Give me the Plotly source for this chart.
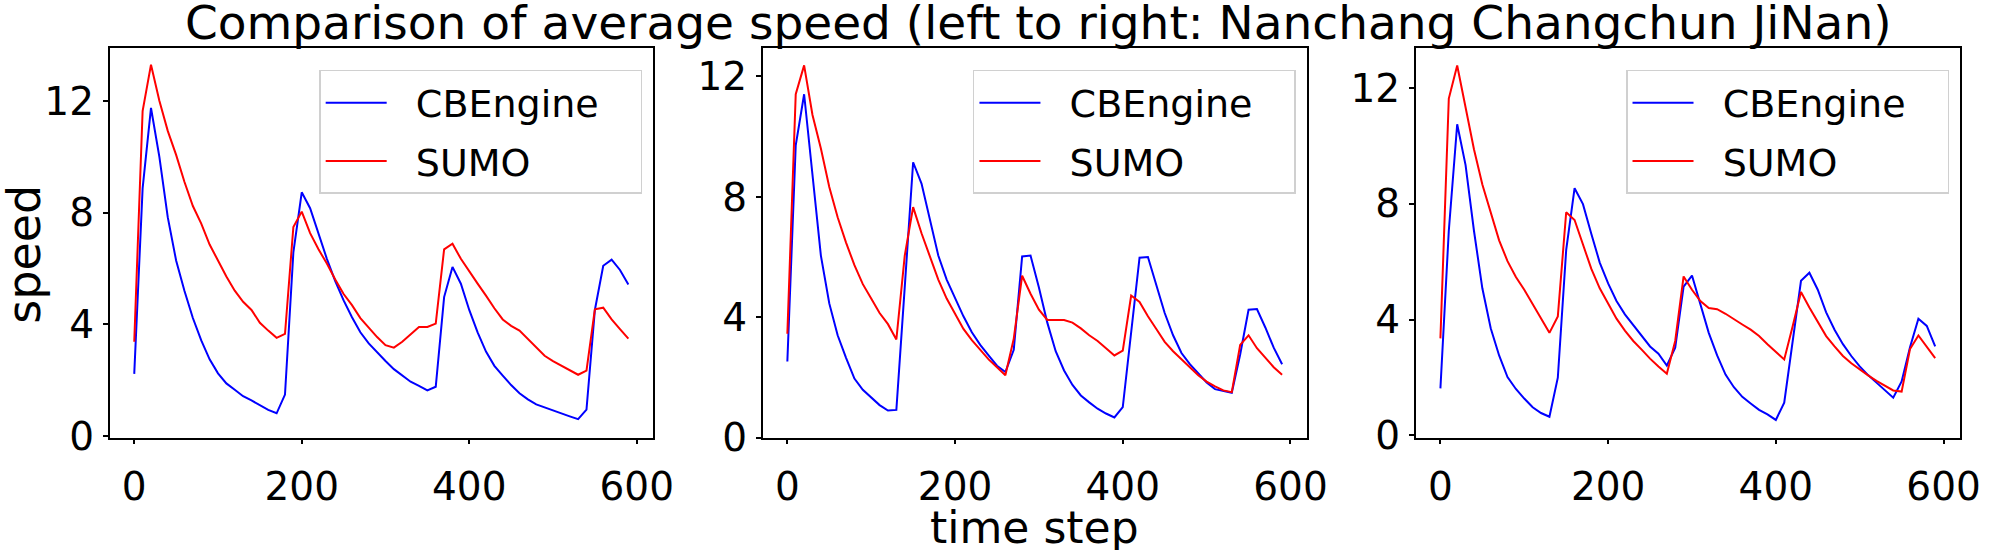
import plotly.graph_objects as go

# time steps (every 10 steps, 0..590)
t = list(range(0, 600, 10))

# Nanchang
nanchang_cbengine = [2.23, 8.87, 11.75, 10.0, 7.84, 6.29, 5.2, 4.23, 3.43, 2.75,
                     2.25, 1.89, 1.66, 1.43, 1.28, 1.11, 0.94, 0.82, 1.49, 6.58,
                     8.73, 8.16, 7.27, 6.35, 5.55, 4.86, 4.26, 3.72, 3.32, 3.0,
                     2.69, 2.40, 2.17, 1.95, 1.80, 1.64, 1.77, 4.98, 6.06, 5.46,
                     4.52, 3.72, 3.03, 2.52, 2.17, 1.83, 1.54, 1.32, 1.14, 1.03,
                     0.92, 0.80, 0.71, 0.61, 0.95, 4.52, 6.10, 6.32, 5.95, 5.43]
nanchang_sumo = [3.38, 11.64, 13.30, 12.01, 10.93, 10.07, 9.10, 8.24, 7.61, 6.86,
                 6.29, 5.72, 5.21, 4.81, 4.52, 4.06, 3.78, 3.52, 3.66, 7.49,
                 8.04, 7.27, 6.69, 6.18, 5.61, 5.09, 4.69, 4.23, 3.89, 3.55,
                 3.26, 3.17, 3.38, 3.66, 3.91, 3.91, 4.03, 6.69, 6.89, 6.35,
                 5.89, 5.46, 5.03, 4.58, 4.18, 3.95, 3.78, 3.49, 3.17, 2.88,
                 2.69, 2.52, 2.35, 2.20, 2.35, 4.54, 4.60, 4.18, 3.83, 3.49]

# Changchun
changchun_cbengine = [2.53, 9.71, 11.41, 8.81, 6.05, 4.46, 3.40, 2.65, 1.96, 1.59,
                      1.33, 1.08, 0.90, 0.92, 5.0, 9.15, 8.44, 7.22, 6.05, 5.25,
                      4.62, 4.03, 3.50, 3.08, 2.73, 2.39, 2.18, 2.92, 6.02, 6.05,
                      4.99, 3.82, 2.87, 2.23, 1.75, 1.40, 1.17, 0.96, 0.80, 0.67,
                      1.01, 3.4, 5.98, 6.00, 5.10, 4.14, 3.40, 2.81, 2.44, 2.12,
                      1.83, 1.61, 1.54, 1.49, 2.76, 4.25, 4.27, 3.66, 2.99, 2.44]
changchun_sumo = [3.45, 11.41, 12.37, 10.72, 9.61, 8.33, 7.32, 6.48, 5.73, 5.10,
                  4.62, 4.14, 3.77, 3.26, 6.05, 7.66, 6.79, 6.05, 5.25, 4.62,
                  4.09, 3.61, 3.24, 2.92, 2.60, 2.34, 2.07, 3.29, 5.38, 4.78,
                  4.25, 3.91, 3.91, 3.91, 3.82, 3.63, 3.40, 3.21, 2.97, 2.73,
                  2.89, 4.72, 4.51, 4.03, 3.61, 3.18, 2.87, 2.60, 2.34, 2.07,
                  1.86, 1.70, 1.57, 1.51, 3.08, 3.40, 2.97, 2.65, 2.34, 2.09]

# JiNan
jinan_cbengine = [1.62, 7.07, 10.75, 9.34, 7.07, 5.08, 3.70, 2.76, 2.01, 1.60,
                  1.27, 0.97, 0.77, 0.64, 1.99, 6.41, 8.54, 7.99, 6.96, 5.97,
                  5.25, 4.64, 4.18, 3.81, 3.43, 3.07, 2.82, 2.41, 3.03, 5.14,
                  5.52, 4.53, 3.54, 2.76, 2.10, 1.66, 1.33, 1.10, 0.88, 0.72,
                  0.53, 1.13, 3.3, 5.34, 5.62, 5.03, 4.25, 3.65, 3.15, 2.74,
                  2.38, 2.08, 1.82, 1.57, 1.30, 1.86, 3.04, 4.03, 3.78, 3.07]
jinan_sumo = [3.35, 11.64, 12.78, 11.27, 9.89, 8.67, 7.68, 6.74, 6.02, 5.47,
              5.03, 4.53, 4.03, 3.54, 4.11, 7.71, 7.44, 6.57, 5.75, 5.08,
              4.53, 4.03, 3.62, 3.26, 2.96, 2.65, 2.38, 2.13, 3.26, 5.49,
              5.03, 4.64, 4.40, 4.36, 4.20, 4.03, 3.83, 3.65, 3.43, 3.15,
              2.87, 2.62, 3.76, 4.95, 4.42, 3.92, 3.43, 3.07, 2.74, 2.49,
              2.27, 2.07, 1.88, 1.71, 1.55, 1.51, 2.98, 3.45, 3.04, 2.67]

x_ticks = [0, 200, 400, 600]
y_ticks = [0, 4, 8, 12]
series_names = ["CBEngine", "SUMO"]
title_text = "Comparison of average speed (left to right: Nanchang Changchun JiNan)"

FONT = "DejaVu Sans"
W, H = 2000, 550
LPAD = "\u00a0\u00a0"        # gap between legend line and text
RPAD = "\u00a0\u00a0\u00a0"  # room on the right of legend text

panels = [
    (nanchang_cbengine, nanchang_sumo, (110.7, 660.0), [-0.05, 13.9], "legend"),
    (changchun_cbengine, changchun_sumo, (770.7, 1320.7), [0, 12.95], "legend2"),
    (jinan_cbengine, jinan_sumo, (1430.7, 1980.7), [-0.08, 13.39], "legend3"),
]

fig = go.Figure()
y_dom = [1 - 456.7 / H, 1 - 50 / H]

layout = dict(
    width=W, height=H,
    margin=dict(l=0, r=0, t=0, b=0),
    paper_bgcolor="white", plot_bgcolor="white",
    font=dict(family=FONT, color="black", size=38),
    showlegend=True,
)

for i, (cb, su, (x0, x1), yr, leg) in enumerate(panels):
    n = "" if i == 0 else str(i + 1)
    fig.add_trace(go.Scatter(x=t, y=cb, mode="lines", name=LPAD + series_names[0] + RPAD,
                             line=dict(color="#0000ff", width=2),
                             xaxis="x" + n, yaxis="y" + n, legend=leg,
                             legendgroup="cb" + n))
    fig.add_trace(go.Scatter(x=t, y=su, mode="lines", name=LPAD + series_names[1] + RPAD,
                             line=dict(color="#ff0000", width=2),
                             xaxis="x" + n, yaxis="y" + n, legend=leg,
                             legendgroup="su" + n))
    common = dict(showline=True, linecolor="black", linewidth=1.5, mirror=True,
                  ticks="outside", ticklen=5, tickwidth=1.5, tickcolor="black",
                  showgrid=False, zeroline=False,
                  tickfont=dict(family=FONT, size=39, color="black"))
    layout["xaxis" + n] = dict(domain=[x0 / W, x1 / W], range=[-29.5, 619.5],
                               tickvals=x_ticks, anchor="y" + n,
                               ticklabelstandoff=9, **common)
    layout["yaxis" + n] = dict(domain=y_dom, range=yr, tickvals=y_ticks,
                               anchor="x" + n, ticklabelstandoff=1, **common)
    layout[leg] = dict(x=(x1 - 11) / W, xanchor="right", y=1 - 73 / H, yanchor="top",
                       bgcolor="rgba(255,255,255,0.8)", bordercolor="#d0d0d0", borderwidth=1.5,
                       font=dict(family=FONT, size=38, color="black"),
                       itemwidth=61, tracegroupgap=6, traceorder="grouped")

layout["annotations"] = [
    dict(text=title_text, xref="paper", yref="paper", x=1050 / W, y=1 - 23 / H,
         xanchor="center", yanchor="middle", showarrow=False,
         font=dict(family=FONT, size=47, color="black")),
    dict(text="time step", xref="paper", yref="paper", x=1045.7 / W, y=0, yshift=-27,
         xanchor="center", yanchor="bottom", showarrow=False, borderpad=0,
         font=dict(family=FONT, size=44, color="black")),
    dict(text="speed", xref="paper", yref="paper", x=24 / W, y=1 - 265 / H,
         xanchor="center", yanchor="middle", showarrow=False, textangle=-90,
         font=dict(family=FONT, size=46, color="black")),
]

fig.update_layout(**layout)
fig.write_html("out.html")
